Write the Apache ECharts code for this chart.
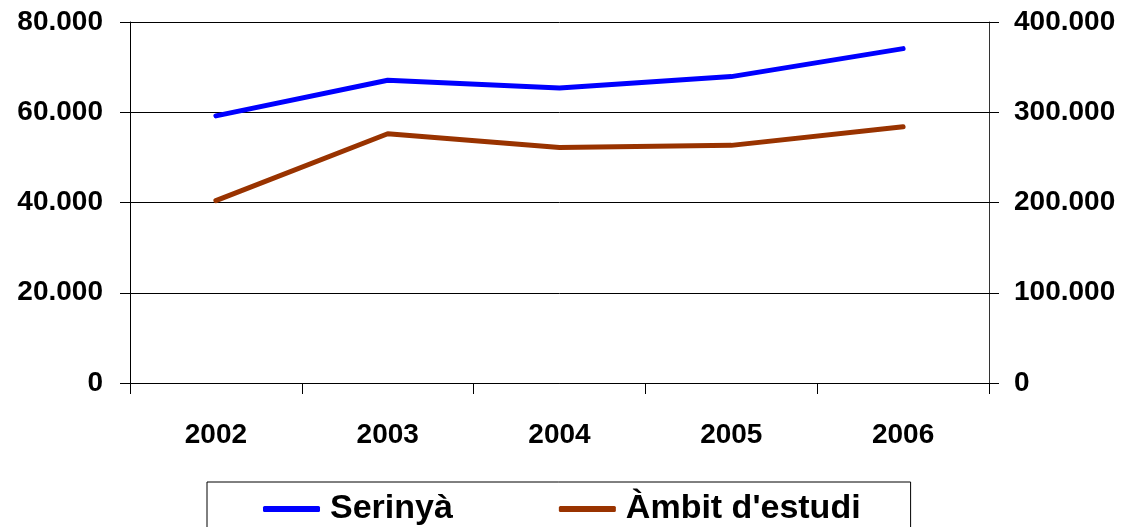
<!DOCTYPE html>
<html>
<head>
<meta charset="utf-8">
<script src="https://cdn.jsdelivr.net/npm/echarts@6/dist/echarts.min.js"></script>
<style>
html, body { margin: 0; padding: 0; background: #fff; }
#chart { width: 1122px; height: 527px; }
</style>
</head>
<body>
<div id="chart"></div>
<script>
var years = ['2002', '2003', '2004', '2005', '2006'];
var serinya = [59200, 67100, 65400, 67900, 74100];
var ambit = [202000, 276200, 261000, 263300, 284000];
var leftTicks = [0, 20000, 40000, 60000, 80000];
var rightTicks = [0, 100000, 200000, 300000, 400000];

var font = '"Liberation Sans", Arial, sans-serif';

// 80000 -> 80.000
function fmt(v) {
    return String(v).replace(/\B(?=(\d{3})+(?!\d))/g, '.');
}

var chart = echarts.init(document.getElementById('chart'));
var option = {
    animation: false,
    backgroundColor: '#fff',
    grid: {
        left: 130,
        right: 133,
        top: 22,
        bottom: 144
    },
    legend: {
        left: 207,
        top: 482,
        padding: [10, 50, 40, 56],
        itemGap: 106,
        itemWidth: 57,
        itemHeight: 6,
        icon: 'roundRect',
        borderColor: '#000',
        borderWidth: 1,
        textStyle: {
            fontFamily: font,
            fontWeight: 'bold',
            fontSize: 34,
            color: '#000',
            padding: [0, 0, 0, 5]
        },
        data: ['Serinyà', "Àmbit d'estudi"]
    },
    xAxis: {
        type: 'category',
        data: years,
        boundaryGap: true,
        axisLine: { lineStyle: { color: '#000', width: 1 } },
        axisTick: { show: true, length: 11, lineStyle: { color: '#000' } },
        axisLabel: {
            margin: 38,
            fontFamily: font,
            fontWeight: 'bold',
            fontSize: 28,
            color: '#000'
        }
    },
    yAxis: [
        {
            type: 'value',
            min: leftTicks[0],
            max: leftTicks[leftTicks.length - 1],
            interval: leftTicks[1] - leftTicks[0],
            axisLine: { show: true, lineStyle: { color: '#000', width: 1 } },
            axisTick: { show: true, length: 10, lineStyle: { color: '#000' } },
            splitLine: { show: true, lineStyle: { color: '#000', width: 1 } },
            axisLabel: {
                margin: 27,
                fontFamily: font,
                fontWeight: 'bold',
                fontSize: 28,
                color: '#000',
                formatter: fmt
            }
        },
        {
            type: 'value',
            position: 'right',
            min: rightTicks[0],
            max: rightTicks[rightTicks.length - 1],
            interval: rightTicks[1] - rightTicks[0],
            axisLine: { show: true, lineStyle: { color: '#333', width: 1 } },
            axisTick: { show: true, length: 10, lineStyle: { color: '#000' } },
            splitLine: { show: false },
            axisLabel: {
                margin: 25,
                fontFamily: font,
                fontWeight: 'bold',
                fontSize: 28,
                color: '#000',
                formatter: fmt
            }
        }
    ],
    series: [
        {
            name: 'Serinyà',
            type: 'line',
            yAxisIndex: 0,
            data: serinya,
            symbol: 'none',
            color: '#0000ff',
            lineStyle: { color: '#0000ff', width: 5, cap: 'round' }
        },
        {
            name: "Àmbit d'estudi",
            type: 'line',
            yAxisIndex: 1,
            data: ambit,
            symbol: 'none',
            color: '#993300',
            lineStyle: { color: '#993300', width: 5, cap: 'round' }
        }
    ]
};
chart.setOption(option);
</script>
</body>
</html>
